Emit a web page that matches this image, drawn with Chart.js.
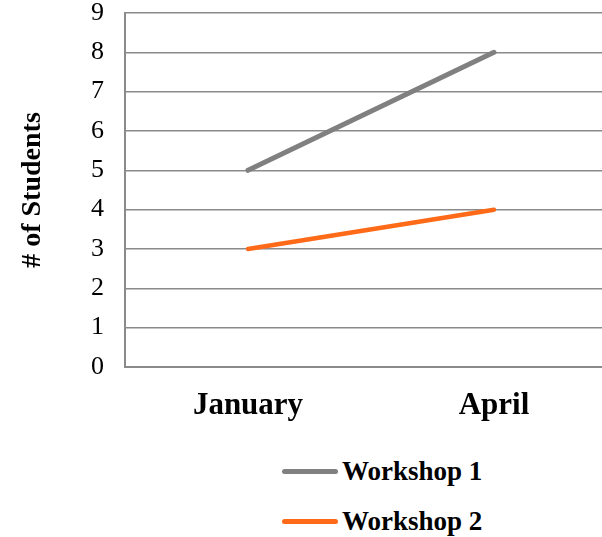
<!DOCTYPE html>
<html>
<head>
<meta charset="utf-8">
<script src="https://cdn.jsdelivr.net/npm/chart.js@4.4.0/dist/chart.umd.min.js"></script>
<style>
    html, body { margin: 0; padding: 0; background: #fff; }
    #wrap { position: relative; width: 602px; height: 537px; overflow: hidden; }
    #chartBox { position: absolute; left: 0; top: 0; width: 620px; height: 440px; }
    .legend-row { position: absolute; left: 282px; height: 30px; display: flex; align-items: center; }
    .legend-line { width: 56px; height: 5px; border-radius: 3px; }
    .legend-text { margin-left: 4px; font: bold 27px "Liberation Serif", "Times New Roman", serif; color: #000; }
</style>
</head>
<body>
<div id="wrap">
    <div id="chartBox"><canvas id="studentsChart" width="620" height="440"></canvas></div>
    <div id="legend"></div>
</div>
<script>
const months = ['January', 'April'];
const workshop1 = [5, 8];
const workshop2 = [3, 4];
const seriesNames = ['Workshop 1', 'Workshop 2'];
const seriesColors = ['#808080', '#FF6A19'];

const serif = '"Liberation Serif", "Times New Roman", serif';
const gridColor = '#8a8a8a';

const ctx = document.getElementById('studentsChart').getContext('2d');
const chart = new Chart(ctx, {
    type: 'line',
    data: {
        labels: months,
        datasets: [
            { label: seriesNames[0], data: workshop1, borderColor: seriesColors[0], borderWidth: 5 },
            { label: seriesNames[1], data: workshop2, borderColor: seriesColors[1], borderWidth: 4.5 }
        ]
    },
    options: {
        responsive: false,
        animation: false,
        devicePixelRatio: 1,
        layout: { padding: { top: 13, right: 3, bottom: 0, left: 0 } },
        elements: {
            point: { radius: 0, hoverRadius: 0 },
            line: { tension: 0, borderCapStyle: 'round', borderJoinStyle: 'round', fill: false }
        },
        scales: {
            x: {
                offset: true,
                grid: { display: false, drawTicks: false },
                border: { display: true, color: gridColor, width: 2 },
                ticks: { color: '#000', padding: 20, font: { family: serif, size: 31, weight: 'bold' } },
                afterFit: (scale) => {
                    scale.height = 73;
                    scale.paddingLeft = 0;
                    scale.paddingRight = 0;
                }
            },
            y: {
                min: 0,
                max: 9,
                ticks: { stepSize: 1, color: '#000', padding: 21, font: { family: serif, size: 26 } },
                grid: { color: gridColor, lineWidth: 1.5, drawTicks: false },
                border: { display: true, color: gridColor, width: 2 },
                title: {
                    display: true,
                    text: '# of Students',
                    color: '#000',
                    padding: { top: 16 },
                    font: { family: serif, size: 28, weight: 'bold' }
                },
                afterFit: (scale) => {
                    scale.width = 125;
                    scale.paddingTop = 0;
                    scale.paddingBottom = 0;
                }
            }
        },
        plugins: {
            legend: { display: false },
            tooltip: { enabled: false }
        }
    }
});

// stacked legend below the plot, built from the datasets
const legendEl = document.getElementById('legend');
const rowTops = [456, 506];
chart.data.datasets.forEach((ds, i) => {
    const row = document.createElement('div');
    row.className = 'legend-row';
    row.style.top = rowTops[i] + 'px';
    row.innerHTML = `<span class="legend-line" style="background:${ds.borderColor}"></span><span class="legend-text">${ds.label}</span>`;
    legendEl.appendChild(row);
});
</script>
</body>
</html>
